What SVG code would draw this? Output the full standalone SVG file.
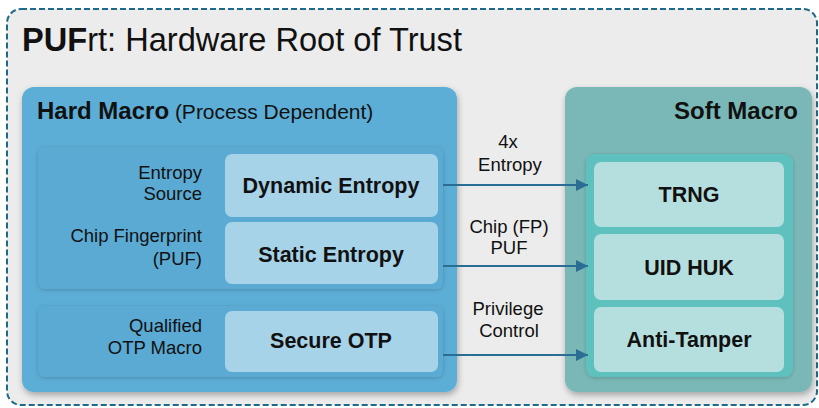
<svg xmlns="http://www.w3.org/2000/svg" width="819" height="408" viewBox="0 0 819 408">
<defs>
<style>
text{font-family:"Liberation Sans",Arial,sans-serif;fill:#111}
.lbl{font-size:18.5px;text-anchor:end}
.mid{font-size:18.5px;text-anchor:middle}
.box{font-size:21.5px;font-weight:bold;text-anchor:middle}
.wbox{fill:#a7d3e9}
.tbox{fill:#b5dfde}
.conn{stroke:#2a6f93;stroke-width:2.2;fill:none;marker-end:url(#ah)}
</style>
<filter id="sh" x="-10%" y="-10%" width="120%" height="125%">
<feDropShadow dx="1" dy="3" stdDeviation="3" flood-color="#000" flood-opacity="0.3"/>
</filter>
<filter id="sh2" x="-10%" y="-10%" width="120%" height="125%">
<feDropShadow dx="0" dy="1" stdDeviation="2" flood-color="#000" flood-opacity="0.2"/>
</filter>
<marker id="ah" markerWidth="12" markerHeight="12" refX="12" refY="6" orient="auto" markerUnits="userSpaceOnUse" viewBox="0 0 12 12">
<path d="M0,0 L12,6 L0,12 z" fill="#2a6f93"/>
</marker>
</defs>
<rect x="0" y="0" width="819" height="408" fill="#fff"/>
<g id="frame">
<rect x="7" y="9" width="810" height="396" rx="14" fill="#ececec" stroke="#1e6a8a" stroke-width="2" stroke-dasharray="6,3"/>
<text x="22" y="51" font-size="32.6"><tspan font-weight="bold">PUF</tspan>rt: Hardware Root of Trust</text>
</g>
<g id="hard-macro">
<rect x="22" y="87" width="435" height="305" rx="12" fill="#5baed6" filter="url(#sh)"/>
<text x="37" y="119" font-size="24"><tspan font-weight="bold">Hard Macro</tspan><tspan font-size="21"> (Process Dependent)</tspan></text>
</g>
<g id="entropy-group">
<rect x="38" y="147" width="405" height="142" rx="7" fill="#5aaad3" filter="url(#sh2)"/>
<text class="lbl" x="202" y="179">Entropy</text>
<text class="lbl" x="202" y="200">Source</text>
<text class="lbl" x="202" y="242">Chip Fingerprint</text>
<text class="lbl" x="202" y="265">(PUF)</text>
</g>
<g id="otp-group">
<rect x="38" y="306" width="405" height="71" rx="7" fill="#5aaad3" filter="url(#sh2)"/>
<text class="lbl" x="202" y="332">Qualified</text>
<text class="lbl" x="202" y="354">OTP Macro</text>
</g>
<g id="dynamic-entropy">
<rect class="wbox" x="225" y="154" width="213" height="63" rx="7"/>
<text class="box" x="331" y="193">Dynamic Entropy</text>
</g>
<g id="static-entropy">
<rect class="wbox" x="225" y="222" width="213" height="62" rx="7"/>
<text class="box" x="331" y="262">Static Entropy</text>
</g>
<g id="secure-otp">
<rect class="wbox" x="225" y="311" width="213" height="61" rx="7"/>
<text class="box" x="331" y="348">Secure OTP</text>
</g>
<g id="soft-macro">
<rect x="565" y="87" width="247" height="305" rx="12" fill="#7ab8b7" filter="url(#sh)"/>
<text x="798" y="119" font-size="24" font-weight="bold" text-anchor="end">Soft Macro</text>
<rect x="586" y="154" width="207" height="223" rx="9" fill="#5ec1bd" filter="url(#sh2)"/>
</g>
<g id="trng">
<rect class="tbox" x="594" y="162" width="190" height="65" rx="7"/>
<text class="box" x="689" y="202">TRNG</text>
</g>
<g id="uid-huk">
<rect class="tbox" x="594" y="234" width="190" height="66" rx="7"/>
<text class="box" x="689" y="275">UID HUK</text>
</g>
<g id="anti-tamper">
<rect class="tbox" x="594" y="307" width="190" height="65" rx="7"/>
<text class="box" x="689" y="347">Anti-Tamper</text>
</g>
<g id="connectors">
<line class="conn" x1="443" y1="185" x2="588" y2="185"/>
<line class="conn" x1="443" y1="266" x2="588" y2="266"/>
<line class="conn" x1="443" y1="355" x2="588" y2="355"/>
<text class="mid" x="508" y="148">4x</text>
<text class="mid" x="510" y="171">Entropy</text>
<text class="mid" x="509" y="233">Chip (FP)</text>
<text class="mid" x="509" y="254">PUF</text>
<text class="mid" x="508" y="315">Privilege</text>
<text class="mid" x="509" y="337">Control</text>
</g>
</svg>
